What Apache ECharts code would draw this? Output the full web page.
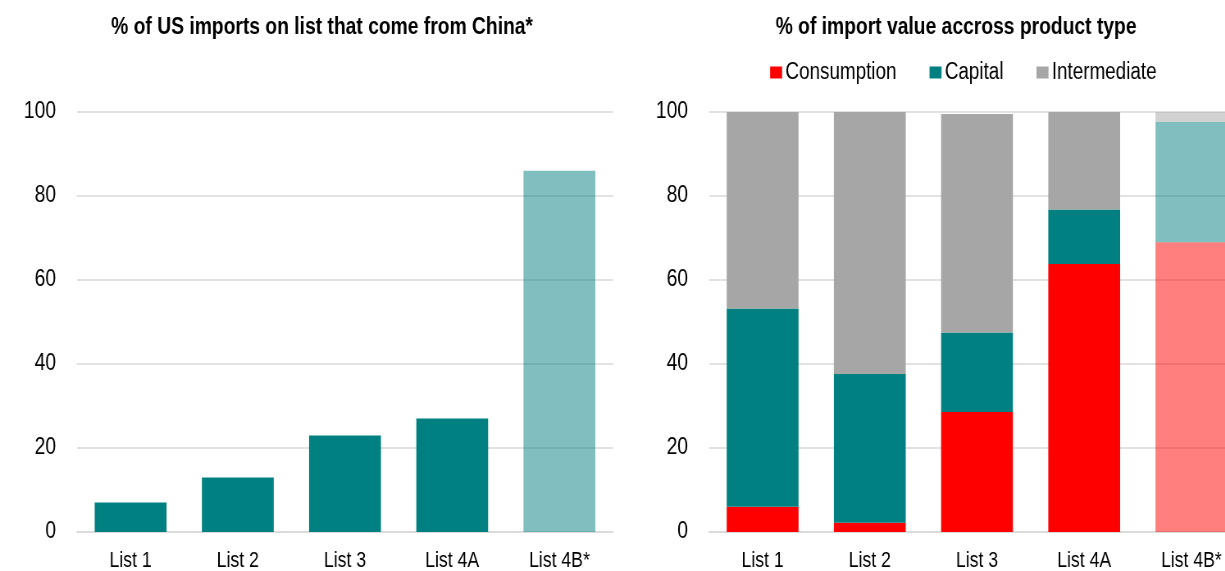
<!DOCTYPE html>
<html>
<head>
<meta charset="utf-8">
<script src="https://cdn.jsdelivr.net/npm/echarts@6/dist/echarts.min.js"></script>
<style>
html,body{margin:0;padding:0;background:#fff;overflow:hidden;}
#wrap{width:1225px;height:571px;overflow:hidden;position:relative;}
#main{width:1494px;height:571px;transform:scaleX(0.82);transform-origin:0 0;position:absolute;left:0;top:0;}
</style>
</head>
<body>
<div id="wrap"><div id="main"></div></div>
<script>
var categories = ['List 1', 'List 2', 'List 3', 'List 4A', 'List 4B*'];
var chinaShare = [7, 13, 23, 27, 86];
var consumption = [6.0, 2.2, 28.6, 63.8, 69.0];
var capital = [47.2, 35.4, 18.9, 13.0, 28.6];
var intermediate = [46.8, 62.4, 52.0, 23.2, 2.4];
var yTicks = [0, 20, 40, 60, 80, 100];

var FONT = "'Liberation Sans', Arial, sans-serif";
var TEAL = '#008080', RED = '#FF0000', GRAY = '#A6A6A6';
var SX = 0.82; // horizontal condensation (narrow type face look)
function px(x) { return x / SX; }

function styled(values, color) {
  return values.map(function (v, i) {
    return i === values.length - 1
      ? { value: v, itemStyle: { color: color, opacity: 0.5 } }
      : { value: v, itemStyle: { color: color } };
  });
}

var chart = echarts.init(document.getElementById('main'), null, { renderer: 'canvas' });

var yAxisCommon = {
  type: 'value', min: yTicks[0], max: yTicks[yTicks.length - 1], interval: yTicks[1] - yTicks[0],
  axisLine: { show: false }, axisTick: { show: false },
  axisLabel: { color: '#000', fontFamily: FONT, fontSize: 23.5, margin: px(21) },
  splitLine: { lineStyle: { color: '#D9D9D9', width: 1.5 } }
};
var xAxisCommon = {
  type: 'category', data: categories,
  axisLine: { lineStyle: { color: '#D9D9D9', width: 1.5 } },
  axisTick: { show: false },
  axisLabel: { color: '#000', fontFamily: FONT, fontSize: 21.5, margin: 18 }
};

chart.setOption({
  animation: false,
  backgroundColor: '#fff',
  title: [
    { text: '% of US imports on list that come from China*', left: px(318), top: 11, textAlign: 'center',
      textStyle: { fontFamily: FONT, fontWeight: 'bold', fontSize: 23.5, color: '#000' } },
    { text: '% of import value accross product type', left: px(952), top: 11, textAlign: 'center',
      textStyle: { fontFamily: FONT, fontWeight: 'bold', fontSize: 23.5, color: '#000' } }
  ],
  legend: {
    data: ['Consumption', 'Capital', 'Intermediate'],
    left: px(766), top: 56, itemWidth: px(12), itemHeight: 12, itemGap: px(33),
    icon: 'rect',
    textStyle: { fontFamily: FONT, fontSize: 23, color: '#000', padding: [0, 0, 0, -1] }
  },
  grid: [
    { left: px(77), top: 112, width: px(536), height: 420, outerBoundsMode: 'none' },
    { left: px(709), top: 112, width: px(536), height: 420, outerBoundsMode: 'none' }
  ],
  xAxis: [
    Object.assign({ gridIndex: 0 }, xAxisCommon),
    Object.assign({ gridIndex: 1 }, xAxisCommon)
  ],
  yAxis: [
    Object.assign({ gridIndex: 0 }, yAxisCommon),
    Object.assign({ gridIndex: 1 }, yAxisCommon)
  ],
  series: [
    { name: 'China share', type: 'bar', xAxisIndex: 0, yAxisIndex: 0, barCategoryGap: '33%',
      data: styled(chinaShare, TEAL) },
    { name: 'Consumption', type: 'bar', stack: 'p', xAxisIndex: 1, yAxisIndex: 1, barCategoryGap: '33%',
      itemStyle: { color: RED }, data: styled(consumption, RED) },
    { name: 'Capital', type: 'bar', stack: 'p', xAxisIndex: 1, yAxisIndex: 1, barCategoryGap: '33%',
      itemStyle: { color: TEAL }, data: styled(capital, TEAL) },
    { name: 'Intermediate', type: 'bar', stack: 'p', xAxisIndex: 1, yAxisIndex: 1, barCategoryGap: '33%',
      itemStyle: { color: GRAY }, data: styled(intermediate, GRAY) }
  ]
});
</script>
</body>
</html>
